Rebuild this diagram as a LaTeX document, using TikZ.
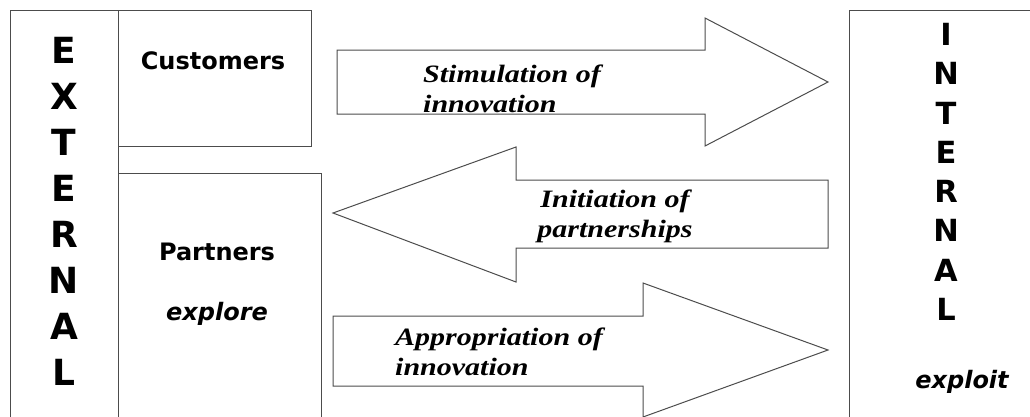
\documentclass[tikz,border=0pt]{standalone}
\usepackage{fontspec}
\usepackage{tikz}
\usetikzlibrary{positioning}
\newfontfamily\gillfont{DejaVu Sans}
\newfontfamily\timesbi[FakeStretch=1.2]{Liberation Serif}

\begin{document}
\begin{tikzpicture}[x=1pt,y=-1pt,
    box/.style={draw=black!70, line width=1pt, inner sep=0pt, anchor=north west},
    bigarrow/.style={draw=black!70, line width=1pt, line join=miter},
    side/.style={font=\gillfont\bfseries\fontsize{36}{46}\selectfont, align=center, inner sep=0pt, anchor=north},
    who/.style={font=\gillfont\bfseries\fontsize{24}{28}\selectfont, inner sep=0pt, anchor=base},
    flow/.style={font=\timesbi\bfseries\itshape\fontsize{25}{29.5}\selectfont, inner sep=0pt, anchor=north west}]
  \useasboundingbox (0,0) rectangle (1030,416);
  \clip (0,0) rectangle (1030,416);

  % boxes
  \node[box, minimum width=108pt, minimum height=430pt] (external) at (10,9.5) {};
  \node[box, minimum width=193pt, minimum height=136.5pt] (customers) at (118,9.5) {};
  \node[box, minimum width=203pt, minimum height=260pt] (partners) at (118,173) {};
  \node[box, minimum width=200pt, minimum height=430pt] (internal) at (849,9.5) {};

  \node[side] (externaltxt) at (64,37) {E\\X\\T\\E\\R\\N\\A\\L};
  \node[side, font=\gillfont\bfseries\fontsize{30.5}{39.3}\selectfont] (internaltxt) at (946,23) {I\\N\\T\\E\\R\\N\\A\\L};

  \node[who] (customerstxt) at (213,69) {Customers};
  \node[who] (partnerstxt) at (217,260) {Partners};
  \node[who, font=\gillfont\bfseries\itshape\fontsize{24}{28}\selectfont] (exploretxt) at (217,320) {explore};
  \node[who, font=\gillfont\bfseries\itshape\fontsize{24}{28}\selectfont] (exploittxt) at (962,388) {exploit};

  % arrows
  \draw[bigarrow] (337,50) -- (705,50) -- (705,18) -- (828,82) -- (705,146) -- (705,114) -- (337,114) -- cycle;
  \draw[bigarrow] (333,213) -- (516,147) -- (516,180) -- (828,180) -- (828,248) -- (516,248) -- (516,282) -- cycle;
  \draw[bigarrow] (333,316) -- (643,316) -- (643,283) -- (828,350) -- (643,417) -- (643,386) -- (333,386) -- cycle;

  \node[flow, align=left] (stimulation) at (423,65) {Stimulation of\\innovation};
  \node[flow, align=center, anchor=north] (initiation) at (615,190) {Initiation of\\partnerships};
  \node[flow, align=left] (appropriation) at (395,328) {Appropriation of\\innovation};
\end{tikzpicture}
\end{document}
